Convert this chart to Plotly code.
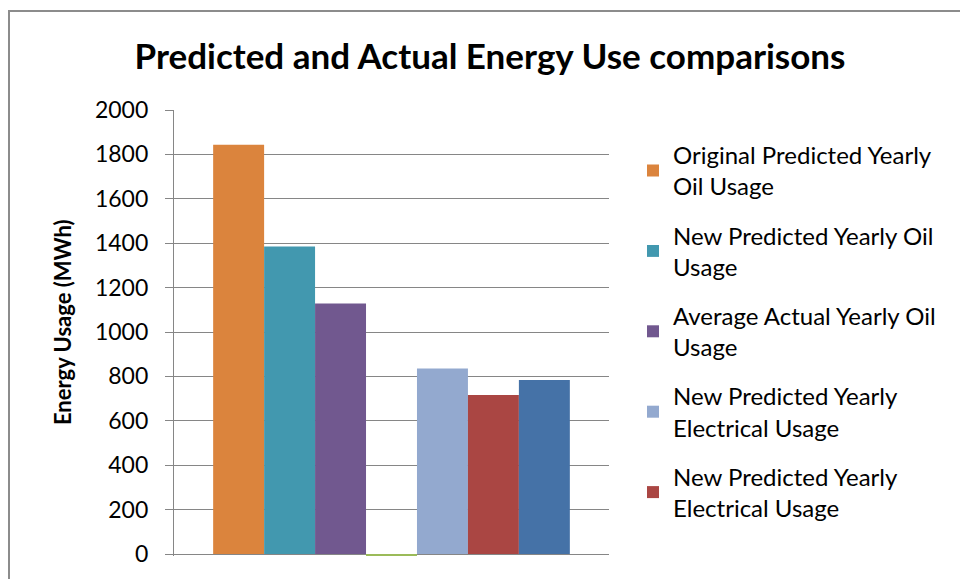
import plotly.graph_objects as go

# Series shown as one group of bars (values in MWh)
series_names = [
    "Original Predicted Yearly<br>Oil Usage",
    "New Predicted Yearly Oil<br>Usage",
    "Average Actual Yearly Oil<br>Usage",
    "Original Predicted Yearly<br>Electrical Usage",
    "New Predicted Yearly<br>Electrical Usage",
    "New Predicted Yearly<br>Electrical Usage",
    "Average Actual Yearly<br>Electrical Usage",
]
series_values = [1844, 1385, 1128, -8, 836, 716, 784]
series_colors = ["#DB843D", "#4298AF", "#71588F", "#9BBB59", "#93A9CF", "#AA4643", "#4572A7"]
series_in_legend = [True, True, True, False, True, True, False]
category = [""]

y_ticks = [0, 200, 400, 600, 800, 1000, 1200, 1400, 1600, 1800, 2000]

FONT = "Lato"
GRID = "#868686"

fig = go.Figure()
for i, (name, val, col, show) in enumerate(zip(series_names, series_values, series_colors, series_in_legend)):
    fig.add_trace(go.Bar(
        x=category, y=[val], name=name, marker_color=col,
        marker_line_width=0, showlegend=show, legendgroup=f"g{i}",
    ))

# Plot area spans x 174..609 px and y 110..560 px (zero sits at 558)
L, R, T, B = 174, 351, 110, 19
W, H = 960, 579
pw, ph = W - L - R, H - T - B
Y_MIN = -2000 * (ph - 448) / 448

def px_x(x):
    return (x - L) / pw

def px_y(y):
    return (H - B - y) / ph

fig.update_layout(
    width=W, height=H,
    margin=dict(l=L, r=R, t=T, b=B),
    paper_bgcolor="white", plot_bgcolor="white",
    barmode="group", bargap=0.18, bargroupgap=0,
    font=dict(family=FONT, color="#000000"),
    title=dict(
        text="<b>Predicted and Actual Energy Use comparisons</b>",
        font=dict(family=FONT, size=35, color="#000000"),
        x=490 / W, xanchor="center", xref="container",
        y=1 - 57 / H, yanchor="middle", yref="container",
    ),
    xaxis=dict(showticklabels=False, showgrid=False, zeroline=False, showline=False, ticks=""),
    yaxis=dict(
        range=[Y_MIN, 2000], tickvals=y_ticks, ticktext=[str(v) for v in y_ticks],
        showgrid=True, gridcolor=GRID, gridwidth=1.2,
        zeroline=False,
        showline=True, linecolor=GRID, linewidth=1.2,
        ticks="outside", ticklen=8, tickcolor=GRID, tickwidth=1.2,
        tickfont=dict(family=FONT, size=23, color="#000000"),
        ticklabelstandoff=12,
    ),
    legend=dict(
        x=px_x(633), xanchor="left", y=px_y(133), yanchor="top",
        font=dict(family=FONT, size=24, color="#000000"),
        traceorder="grouped", tracegroupgap=15,
        bgcolor="rgba(0,0,0,0)",
    ),
    annotations=[dict(
        text="<b>Energy Usage (MWh)</b>", textangle=-90,
        xref="paper", yref="paper", x=px_x(62), y=px_y(324),
        xanchor="center", yanchor="middle", showarrow=False,
        font=dict(family=FONT, size=22, color="#000000"),
    )],
    shapes=[dict(
        type="path", xref="paper", yref="paper",
        path=f"M {px_x(9)},{px_y(600)} L {px_x(9)},{px_y(10)} L {px_x(980)},{px_y(10)}",
        line=dict(color="#8c8c8c", width=2),
    )],
)

fig.write_html("out.html")
